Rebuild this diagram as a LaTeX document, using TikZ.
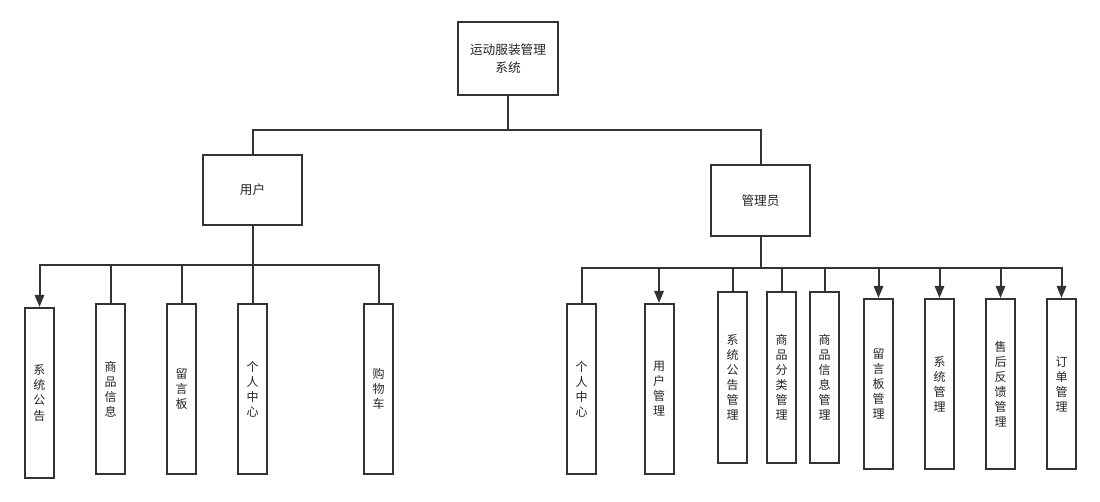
\documentclass[tikz,border=0pt]{standalone}
\usepackage{fontspec}
\newfontfamily\cjk{Noto Sans CJK SC}
\usetikzlibrary{arrows.meta}
\definecolor{ln}{HTML}{333333}
\tikzset{
  box/.style={draw=ln, line width=1.5pt, fill=white, inner sep=0pt, align=center,
    font=\cjk\fontsize{9.5}{13}\selectfont, text=black!85},
  leaf/.style={box, minimum width=21.75pt, minimum height=127.5pt,
    font=\cjk\fontsize{9}{11.3}\selectfont},
  conn/.style={draw=ln, line width=1.5pt},
  arr/.style={conn, -{Triangle[length=9pt,width=7pt]}}
}
\begin{document}
\begin{tikzpicture}[x=0.75pt,y=-0.75pt]
\useasboundingbox (0,0) rectangle (1100,502);
% top level
\node[box, minimum width=75pt, minimum height=54.75pt] (top) at (508,58.5) {运动服装管理\\系统};
\node[box, minimum width=74.25pt, minimum height=52.5pt] (user) at (252.5,190) {用户};
\node[box, minimum width=74.25pt, minimum height=53.25pt] (admin) at (760.5,200.5) {管理员};
% user leaves
\node[leaf] (u1) at (39.5,393) {系\\统\\公\\告};
\node[leaf] (u2) at (110.5,389) {商\\品\\信\\息};
\node[leaf] (u3) at (181.5,389) {留\\言\\板};
\node[leaf] (u4) at (252.5,389) {个\\人\\中\\心};
\node[leaf] (u5) at (378.5,389) {购\\物\\车};
% admin leaves
\node[leaf] (a1) at (581.5,389) {个\\人\\中\\心};
\node[leaf] (a2) at (659,389) {用\\户\\管\\理};
\node[leaf] (a3) at (732.5,377.5) {系\\统\\公\\告\\管\\理};
\node[leaf] (a4) at (781.5,377.5) {商\\品\\分\\类\\管\\理};
\node[leaf] (a5) at (824.5,377.5) {商\\品\\信\\息\\管\\理};
\node[leaf] (a6) at (878.5,384) {留\\言\\板\\管\\理};
\node[leaf] (a7) at (939.5,384) {系\\统\\管\\理};
\node[leaf] (a8) at (1000.5,384) {售\\后\\反\\馈\\管\\理};
\node[leaf] (a9) at (1061.5,384) {订\\单\\管\\理};
% junctions
\coordinate (j1) at (508,130);
\coordinate (j2) at (252.5,265);
\coordinate (j3) at (760.5,268);
% top connectors
\draw[conn] (top.south) -- (j1);
\draw[conn] (j1) -| (user.north);
\draw[conn] (j1) -| (admin.north);
% user connectors
\draw[conn] (user.south) -- (j2);
\draw[arr] (j2) -| (u1.north);
\draw[conn] (j2) -| (u2.north);
\draw[conn] (j2) -| (u3.north);
\draw[conn] (j2) -- (u4.north);
\draw[conn] (j2) -| (u5.north);
% admin connectors
\draw[conn] (admin.south) -- (j3);
\draw[conn] (j3) -| (a1.north);
\draw[arr] (j3) -| (a2.north);
\draw[conn] (j3) -| (a3.north);
\draw[conn] (j3) -| (a4.north);
\draw[conn] (j3) -| (a5.north);
\draw[arr] (j3) -| (a6.north);
\draw[arr] (j3) -| (a7.north);
\draw[arr] (j3) -| (a8.north);
\draw[arr] (j3) -| (a9.north);
\end{tikzpicture}
\end{document}
